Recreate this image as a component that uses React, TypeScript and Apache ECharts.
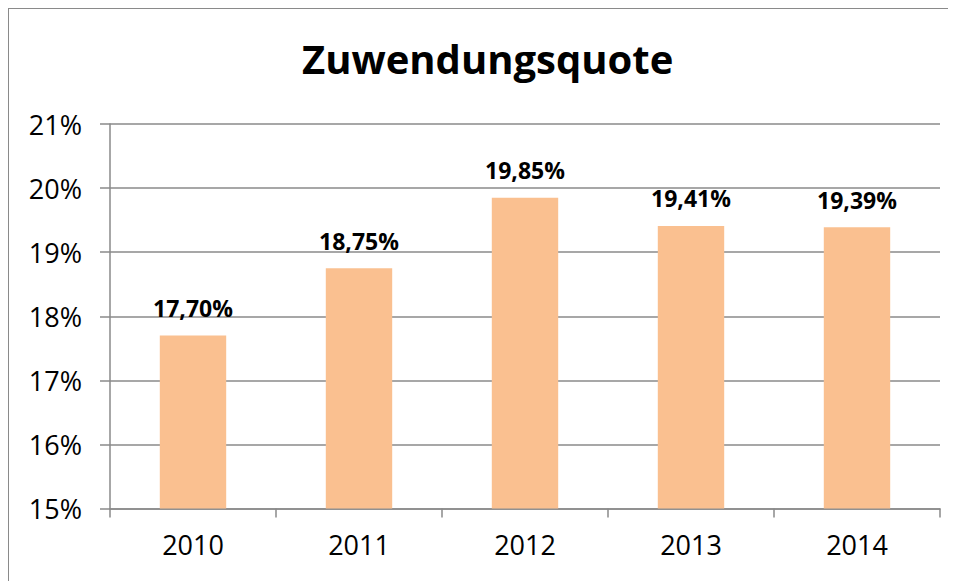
import React, { useEffect, useRef } from "react";
import * as echarts from "echarts";

const titleText = "Zuwendungsquote";
const years = ["2010", "2011", "2012", "2013", "2014"];
const quote = [17.7, 18.75, 19.85, 19.41, 19.39];
const yMin = 15;
const yMax = 21;
const yStep = 1;

export default function App() {
  const ref = useRef<HTMLDivElement>(null);
  useEffect(() => {
    document.body.style.overflow = "hidden";
    document.documentElement.style.overflow = "hidden";
    const chart = echarts.init(ref.current!, null, { renderer: "svg" });
    const font = "'Open Sans', 'Noto Sans', sans-serif";
    const gray = "#8a8a8a";
    chart.setOption({
      animation: false,
      backgroundColor: "#ffffff",
      title: {
        text: titleText,
        left: 288,
        top: 24,
        textStyle: { fontFamily: font, fontSize: 40, fontWeight: "bold", color: "#000" },
      },
      grid: { left: 101, right: 31, top: 115, bottom: 72.5 },
      xAxis: {
        type: "category",
        data: years,
        boundaryGap: true,
        axisLine: { show: true, lineStyle: { color: gray, width: 1.5 } },
        axisTick: { show: true, length: 9, interval: 0, lineStyle: { color: gray, width: 1.5 } },
        axisLabel: { fontFamily: font, fontSize: 27, color: "#000", margin: 22 },
      },
      yAxis: {
        type: "value",
        min: yMin,
        max: yMax,
        interval: yStep,
        axisLine: { show: true, lineStyle: { color: gray, width: 1.5 } },
        axisTick: { show: true, length: 10, lineStyle: { color: gray, width: 1.5 } },
        splitLine: { show: true, lineStyle: { color: gray, width: 1.5 } },
        axisLabel: {
          fontFamily: font,
          fontSize: 27,
          color: "#000",
          margin: 28,
          formatter: (v: number) => `${v}%`,
        },
      },
      series: [
        {
          type: "bar",
          data: quote,
          barWidth: "40%",
          itemStyle: { color: "#FAC090" },
          label: {
            show: true,
            position: "top",
            distance: 16,
            fontFamily: font,
            fontSize: 23,
            fontWeight: "bold",
            color: "#000",
            formatter: (p: any) => `${p.value.toFixed(2).replace(".", ",")}%`,
          },
        },
      ],
    });
    return () => chart.dispose();
  }, []);
  return (
    <div
      style={{
        width: 963,
        height: 590,
        borderLeft: "1px solid #8a8a8a",
        borderTop: "1px solid #8a8a8a",
        boxSizing: "border-box",
        overflow: "hidden",
      }}
    >
      <div ref={ref} style={{ width: 962, height: 572 }} />
    </div>
  );
}
